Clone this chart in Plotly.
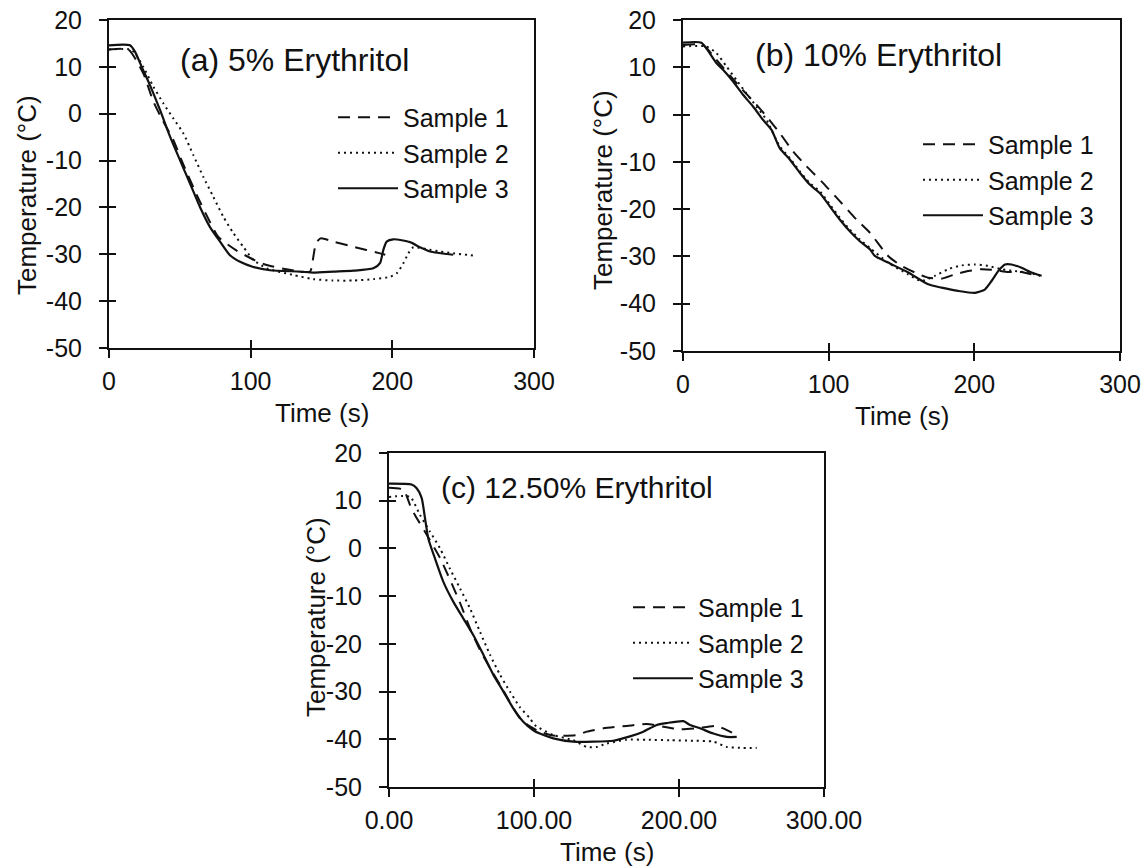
import plotly.graph_objects as go

# ---------------- data ----------------
# Panel (a) 5% Erythritol
a_s1_t = [0, 13.6, 24.2, 31.3, 38, 45.4, 51.3, 63.1, 70.1, 77.2, 90.1, 103.1, 111.3, 125.4, 141.9, 143.5, 146.1, 149.4, 158.4, 172.5, 191.3, 195]
a_s1_T = [13.7, 13.7, 8.6, 2.6, -1.5, -5.6, -10.0, -18.1, -22.4, -26.3, -29.2, -31.3, -32.3, -33.2, -33.7, -31.9, -27.7, -26.6, -27.3, -28.4, -29.8, -30.1]
a_s2_t = [0, 16.0, 24.2, 31.3, 38.4, 45.4, 52.5, 59.5, 66.6, 73.6, 80.7, 87.8, 94.8, 101.9, 111.3, 130, 144, 158, 172.5, 186.6, 198.4, 203, 207.8, 211.3, 214.8, 224.2, 233.6, 243, 258.4]
a_s2_T = [13.7, 13.6, 10.0, 5.8, 2.2, -1.0, -4.2, -8.8, -13.5, -17.7, -22.0, -25.5, -28.4, -31.2, -33.0, -34.4, -35.3, -35.6, -35.6, -35.3, -34.8, -34.1, -31.9, -29.8, -28.5, -28.9, -29.4, -29.8, -30.3]
a_s3_t = [0, 14.8, 18.4, 23.1, 28.9, 36.0, 43.1, 50.1, 57.2, 64.2, 71.3, 78.4, 85.4, 92.5, 101.9, 113.6, 134.8, 144.2, 158.4, 172.5, 186.6, 191.3, 193.6, 196, 200.7, 212.5, 219.5, 226.6, 243]
a_s3_T = [14.6, 14.6, 13.2, 10.0, 6.1, 0.8, -4.9, -9.9, -14.9, -19.9, -24.2, -27.3, -30.2, -31.6, -32.7, -33.4, -33.7, -33.9, -33.7, -33.5, -33.0, -31.9, -29.1, -27.3, -26.8, -27.4, -28.5, -29.4, -30.1]

# Panel (b) 10% Erythritol
b_s1_t = [0, 13.8, 22.9, 38.9, 50.4, 57.3, 66.4, 75.6, 84.7, 96.2, 107.6, 119.1, 128.3, 140.8, 150, 159.2, 168.3, 177.5, 186.6, 195.8, 205, 214.1, 223.3, 232.4, 239.3, 245]
b_s1_T = [14.7, 14.7, 11.6, 5.9, 2.1, -0.4, -3.9, -7.8, -10.9, -14.5, -18.3, -22.2, -25.0, -29.9, -32.0, -33.4, -34.5, -34.7, -33.8, -33.1, -32.7, -32.9, -33.3, -33.3, -33.8, -34.1]
b_s2_t = [0, 16.0, 22.9, 29.8, 36.7, 43.5, 50.4, 57.3, 66.4, 73.3, 80.2, 87, 93.9, 100.8, 107.6, 114.5, 121.4, 128.3, 140.8, 154.6, 163.7, 172.9, 182, 191.2, 200.4, 209.5, 218.7, 227.8, 237, 245]
b_s2_T = [14.4, 14.4, 13.0, 10.2, 7.3, 4.5, 1.7, -1.1, -6.7, -9.2, -12.0, -14.5, -16.2, -19.0, -21.8, -24.3, -26.4, -28.2, -31.3, -33.8, -35.2, -34.1, -32.7, -31.9, -31.7, -32.0, -32.7, -33.1, -33.4, -34.1]
b_s3_t = [0, 12.6, 18.3, 22.9, 27.5, 34.4, 41.2, 48.1, 54.9, 60.7, 66.4, 73.3, 80.2, 87.0, 93.9, 100.8, 107.6, 114.5, 121.4, 128.3, 131.7, 140.8, 154.6, 168.3, 177.5, 188.9, 200.4, 207.2, 211.8, 216.4, 221, 225.6, 232.4, 239.3, 246.2]
b_s3_T = [15.2, 15.2, 13.0, 10.9, 9.5, 7.0, 4.2, 1.7, -1.1, -3.2, -7.1, -9.5, -12.3, -14.8, -16.6, -19.4, -22.2, -24.7, -26.8, -28.5, -29.9, -31.3, -33.4, -35.9, -36.6, -37.3, -37.7, -37.0, -35.2, -33.1, -31.7, -31.7, -32.4, -33.4, -34.1]

# Panel (c) 12.50% Erythritol
c_s1_t = [0, 9.9, 14.5, 17.9, 24.8, 35.2, 49, 55.9, 62.8, 69.7, 76.6, 90.3, 97.2, 104, 113.3, 129.4, 136.3, 147.8, 163.9, 177.7, 191.5, 200.7, 212.2, 225.9, 235.2, 240.9]
c_s1_T = [12.7, 12.3, 9.1, 7.0, 3.5, -2.0, -11.4, -16.8, -21.3, -25.1, -28.6, -35.6, -37.3, -38.4, -39.2, -39.1, -38.4, -37.7, -37.2, -36.8, -37.5, -37.9, -37.7, -37.2, -38.4, -39.4]
c_s2_t = [0, 14.5, 21.4, 28.3, 35.2, 42.1, 49, 55.9, 62.8, 69.7, 76.6, 83.4, 90.3, 97.2, 100.5, 113.3, 127.1, 136.3, 143.2, 150.1, 163.9, 177.7, 193.8, 209.9, 223.7, 232.9, 242.1, 253.6]
c_s2_T = [10.8, 10.8, 7.0, 3.5, 0.0, -4.3, -8.4, -12.6, -17.5, -22.3, -26.5, -30.0, -33.3, -35.6, -37.0, -39.1, -40.2, -41.6, -41.6, -40.9, -40.1, -40.1, -40.2, -40.3, -40.5, -41.6, -41.8, -41.8]
c_s3_t = [0, 15.6, 19.1, 22.5, 24.8, 27.1, 31.7, 37.5, 44.4, 51.3, 58.2, 65.1, 72, 78.9, 85.7, 92.6, 99.5, 104, 113.3, 127.1, 140.9, 154.7, 166.2, 175.4, 184.6, 191.5, 203, 207.6, 214.5, 223.7, 232.9, 239.8]
c_s3_T = [13.6, 13.4, 12.6, 10.6, 6.4, 2.1, -2.1, -7.0, -11.2, -14.7, -18.2, -22.3, -26.5, -30.0, -33.5, -36.3, -38.1, -38.8, -39.8, -40.5, -40.5, -40.3, -39.4, -38.4, -37.0, -36.6, -36.2, -37.0, -37.7, -38.8, -39.5, -39.5]

series_names = ["Sample 1", "Sample 2", "Sample 3"]
panel_titles = ["(a) 5% Erythritol", "(b) 10% Erythritol", "(c) 12.50% Erythritol"]
x_title = "Time (s)"
y_title = "Temperature (°C)"
x_tickvals = [0, 100, 200, 300]
x_ticktext_ab = ["0", "100", "200", "300"]
x_ticktext_c = ["0.00", "100.00", "200.00", "300.00"]
y_tickvals = [-50, -40, -30, -20, -10, 0, 10, 20]
y_ticktext = ["-50", "-40", "-30", "-20", "-10", "0", "10", "20"]

panels = [
    [(a_s1_t, a_s1_T), (a_s2_t, a_s2_T), (a_s3_t, a_s3_T)],
    [(b_s1_t, b_s1_T), (b_s2_t, b_s2_T), (b_s3_t, b_s3_T)],
    [(c_s1_t, c_s1_T), (c_s2_t, c_s2_T), (c_s3_t, c_s3_T)],
]

# ---------------- layout geometry ----------------
W, H = 1146, 867
FONT = "Liberation Sans, Arial, sans-serif"
INK = "#111111"
# pixel boxes of the three plot areas: (left, right, top, bottom)
boxes = [(109, 534, 20, 348), (683, 1120, 20, 351), (389, 824, 453, 787)]
dash_styles = ["12px,8px", "2px,4px", "solid"]
line_widths = [2.0, 2.0, 2.2]

def px_x(p):
    return p / W

def px_y(p):
    return 1 - p / H

fig = go.Figure()
layout = dict(
    template="none",
    width=W, height=H, autosize=False,
    margin=dict(l=0, r=0, t=0, b=0, pad=0),
    paper_bgcolor="white", plot_bgcolor="white",
    font=dict(family=FONT, color=INK, size=25),
    annotations=[],
)

legend_pos = [(333, 153), (918, 180), (628, 643)]
title_pos = [(178, 60, 32), (753, 55, 32), (439, 487, 30)]
ytitle_pos = [(27, 195), (603, 190), (316, 617)]

for i, series in enumerate(panels):
    n = i + 1
    sx = "" if n == 1 else str(n)
    lg = "legend" if n == 1 else f"legend{n}"
    for j, (t, T) in enumerate(series):
        fig.add_trace(go.Scatter(
            x=t, y=T, mode="lines", name=series_names[j],
            line=dict(color=INK, width=line_widths[j], dash=dash_styles[j], shape="spline", smoothing=0.6),
            xaxis=f"x{sx}", yaxis=f"y{sx}", legend=lg, hoverinfo="skip",
        ))
    # empty trace so the overlay (inner tick) axes exist
    ov = str(n + 3)
    fig.add_trace(go.Scatter(x=[], y=[], xaxis=f"x{ov}", yaxis=f"y{ov}", showlegend=False, hoverinfo="skip"))

    L, R, Tp, B = boxes[i]
    xd = [px_x(L), px_x(R)]
    yd = [px_y(B), px_y(Tp)]
    layout[f"xaxis{sx}"] = dict(
        domain=xd, anchor=f"y{sx}", range=[0, 300], tickmode="array",
        tickvals=x_tickvals, ticktext=(x_ticktext_c if n == 3 else x_ticktext_ab),
        showline=True, linecolor=INK, linewidth=2, mirror=True,
        ticks="outside", ticklen=8, tickwidth=2, tickcolor=INK,
        showgrid=False, zeroline=False, ticklabelstandoff=2, automargin=False,
        tickfont=dict(size=25, family=FONT, color=INK),
    )
    layout[f"yaxis{sx}"] = dict(
        domain=yd, anchor=f"x{sx}", range=[-50, 20], tickmode="array",
        tickvals=y_tickvals, ticktext=y_ticktext,
        showline=True, linecolor=INK, linewidth=2, mirror=True,
        ticks="outside", ticklen=8, tickwidth=2, tickcolor=INK,
        showgrid=False, zeroline=False, ticklabelstandoff=12, automargin=False,
        tickfont=dict(size=25, family=FONT, color=INK),
    )
    layout[f"xaxis{ov}"] = dict(
        overlaying=f"x{sx}", anchor=f"y{ov}", range=[0, 300], tickmode="array", tickvals=x_tickvals,
        ticks="inside", ticklen=8, tickwidth=2, tickcolor=INK, automargin=False,
        showticklabels=False, showline=False, showgrid=False, zeroline=False,
    )
    layout[f"yaxis{ov}"] = dict(
        overlaying=f"y{sx}", anchor=f"x{ov}", range=[-50, 20], tickmode="array", tickvals=y_tickvals,
        ticks="inside", ticklen=7, tickwidth=2, tickcolor=INK, automargin=False,
        showticklabels=False, showline=False, showgrid=False, zeroline=False,
    )
    lx, ly = legend_pos[i]
    layout[lg] = dict(
        x=px_x(lx), y=px_y(ly), xanchor="left", yanchor="middle",
        bgcolor="rgba(0,0,0,0)", borderwidth=0, itemwidth=60,
        font=dict(size=25, family=FONT, color=INK), tracegroupgap=0,
    )
    tx, ty, ts = title_pos[i]
    layout["annotations"].append(dict(
        text=panel_titles[i], x=px_x(tx), y=px_y(ty), xref="paper", yref="paper",
        xanchor="left", yanchor="middle", showarrow=False,
        font=dict(size=ts, family=FONT, color=INK),
    ))
    # axis titles
    layout["annotations"].append(dict(
        text=x_title, x=px_x((L + R) / 2), y=px_y(B + 65), xref="paper", yref="paper",
        xanchor="center", yanchor="middle", showarrow=False,
        font=dict(size=26, family=FONT, color=INK),
    ))
    yx, yy = ytitle_pos[i]
    layout["annotations"].append(dict(
        text=y_title, x=px_x(yx), y=px_y(yy), xref="paper", yref="paper",
        xanchor="center", yanchor="middle", showarrow=False, textangle=-90,
        font=dict(size=26, family=FONT, color=INK),
    ))

fig.update_layout(**layout)
fig.write_html("out.html")
